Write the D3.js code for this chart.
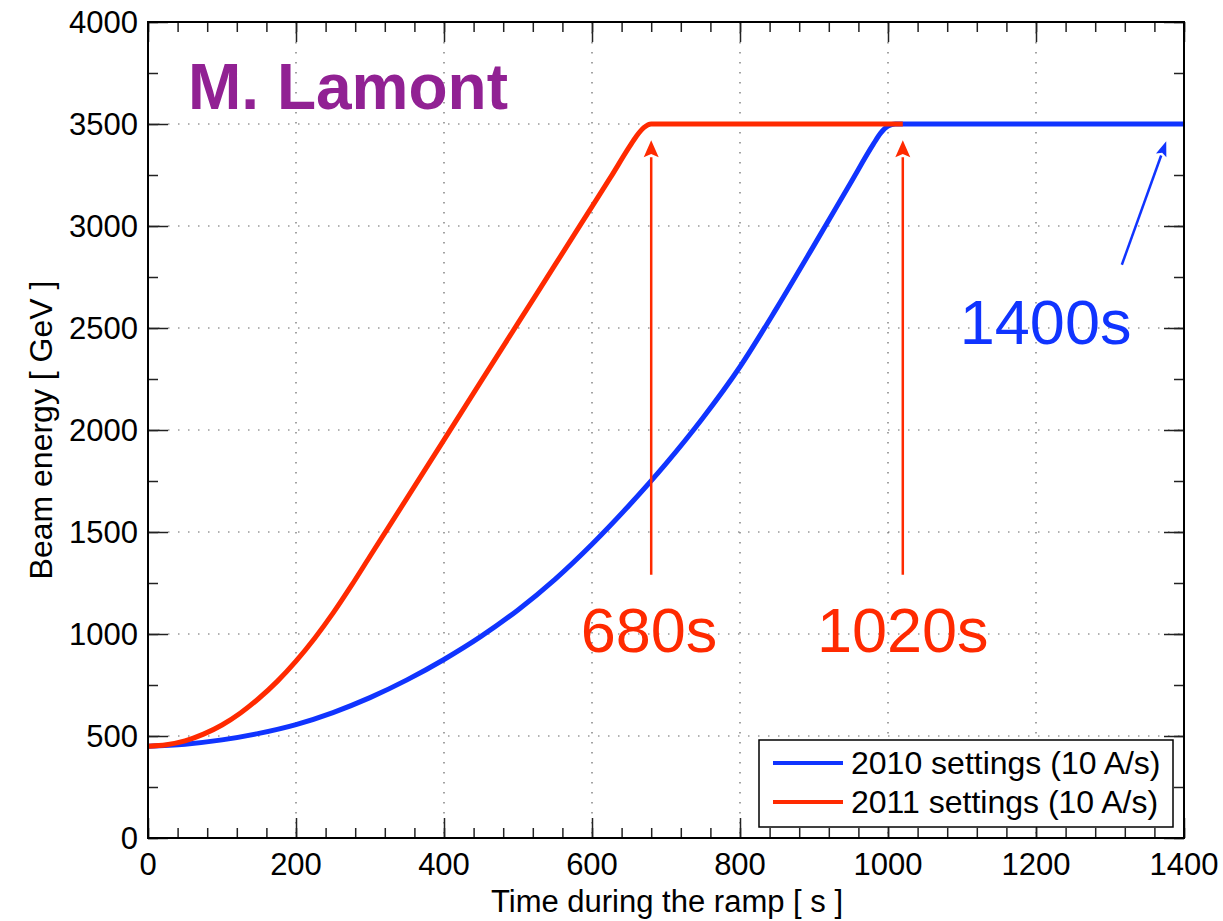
<!DOCTYPE html>
<html>
<head>
<meta charset="utf-8">
<script src="https://cdn.jsdelivr.net/npm/d3@7"></script>
<style>
  body { margin: 0; background: #fff; }
  text { font-family: "Liberation Sans", Arial, Helvetica, sans-serif; }
</style>
</head>
<body>
<div class="chart"></div>
<script>
// 2011 ramp (red)
const timeRed = [0, 25, 50, 75, 100, 125, 150, 175, 200, 225, 250, 275, 300, 350, 400, 450, 500, 550, 600, 625, 650, 660, 670, 680, 1020];
const energyRed = [450, 457, 476, 509, 554, 613, 685, 769, 867, 978, 1102, 1238, 1381, 1666, 1952, 2238, 2524, 2809, 3095, 3238, 3385, 3440, 3482, 3500, 3500];

// 2010 ramp (blue)
const timeBlue = [0, 50, 100, 150, 200, 250, 300, 350, 400, 450, 500, 550, 600, 650, 700, 750, 800, 850, 900, 950, 980, 990, 1000, 1010, 1400];
const energyBlue = [450, 460, 481, 513, 556, 615, 688, 775, 875, 988, 1118, 1268, 1440, 1630, 1835, 2060, 2310, 2600, 2905, 3215, 3400, 3455, 3490, 3500, 3500];

const seriesNames = ['2010 settings (10 A/s)', '2011 settings (10 A/s)'];
const xTicks = [0, 200, 400, 600, 800, 1000, 1200, 1400];
const yTicks = [0, 500, 1000, 1500, 2000, 2500, 3000, 3500, 4000];

// arrows: [x0, y0, x1, y1] in data units
const redArrows = [[680, 1290, 680, 3420], [1020, 1290, 1020, 3420]];
const blueArrow = [1316, 2810, 1376, 3415];
const notes = [
  { text: '680s', t: 677, e: 910, color: '#ff2a00' },
  { text: '1020s', t: 1020, e: 910, color: '#ff2a00' },
  { text: '1400s', t: 1213, e: 2420, color: '#1034ff' }
];

const W = 1223, H = 921;
const m = { left: 148, right: 1184, top: 22, bottom: 838 };
const blue = '#1034ff', red = '#ff2a00';

const svg = d3.select('.chart').append('svg')
  .attr('width', W).attr('height', H);

const x = d3.scaleLinear().domain([0, 1400]).range([m.left, m.right]);
const y = d3.scaleLinear().domain([0, 4000]).range([m.bottom, m.top]);

// dotted grid
svg.append('g').selectAll('line').data(xTicks.slice(1, -1)).join('line')
  .attr('x1', d => x(d)).attr('x2', d => x(d))
  .attr('y1', m.top).attr('y2', m.bottom)
  .attr('stroke', '#666').attr('stroke-width', 1.2).attr('stroke-dasharray', '1.5 8.5');
svg.append('g').selectAll('line').data(yTicks.slice(1, -1)).join('line')
  .attr('x1', m.left).attr('x2', m.right)
  .attr('y1', d => y(d)).attr('y2', d => y(d))
  .attr('stroke', '#666').attr('stroke-width', 1.2).attr('stroke-dasharray', '1.5 8.5');

// ticks on all four sides
const xMinor = d3.range(0, 1401, 40);
const yMinor = d3.range(0, 4001, 250);

function tickAxis(axisFn, scale, values, size, tr) {
  const g = svg.append('g').attr('transform', tr)
    .call(axisFn(scale).tickValues(values).tickSizeInner(-size).tickSizeOuter(0).tickFormat(''));
  g.select('.domain').remove();
  g.selectAll('.tick line').attr('stroke', '#222').attr('stroke-width', 1.5);
  return g;
}
tickAxis(d3.axisBottom, x, xMinor, 10, `translate(0,${m.bottom})`);
tickAxis(d3.axisTop, x, xMinor, 10, `translate(0,${m.top})`);
tickAxis(d3.axisLeft, y, yMinor, 10, `translate(${m.left},0)`);
tickAxis(d3.axisRight, y, yMinor, 10, `translate(${m.right},0)`);
tickAxis(d3.axisBottom, x, xTicks, 20, `translate(0,${m.bottom})`);
tickAxis(d3.axisTop, x, xTicks, 20, `translate(0,${m.top})`);
tickAxis(d3.axisLeft, y, yTicks, 20, `translate(${m.left},0)`);
tickAxis(d3.axisRight, y, yTicks, 20, `translate(${m.right},0)`);

// tick labels
svg.append('g').selectAll('text').data(xTicks).join('text')
  .attr('x', d => x(d)).attr('y', 875)
  .attr('text-anchor', 'middle').attr('font-size', '31px')
  .text(d => d);
svg.append('g').selectAll('text').data(yTicks).join('text')
  .attr('x', 138).attr('y', d => y(d) + 11)
  .attr('text-anchor', 'end').attr('font-size', '31px')
  .text(d => d);

// axis titles
svg.append('text')
  .attr('x', 667).attr('y', 912)
  .attr('text-anchor', 'middle').attr('font-size', '31px')
  .text('Time during the ramp [ s ]');
svg.append('text')
  .attr('transform', `translate(52,${(m.top + m.bottom) / 2}) rotate(-90)`)
  .attr('text-anchor', 'middle').attr('font-size', '32px')
  .text('Beam energy [ GeV ]');

// curves
const line = d3.line().x(d => x(d[0])).y(d => y(d[1])).curve(d3.curveMonotoneX);
svg.append('path')
  .datum(d3.zip(timeBlue, energyBlue))
  .attr('d', line).attr('fill', 'none')
  .attr('stroke', blue).attr('stroke-width', 5);
svg.append('path')
  .datum(d3.zip(timeRed, energyRed))
  .attr('d', line).attr('fill', 'none')
  .attr('stroke', red).attr('stroke-width', 5);

// arrows
function arrow(a, color, width, headLen, headW) {
  const x0 = x(a[0]), y0 = y(a[1]), x1 = x(a[2]), y1 = y(a[3]);
  const ang = Math.atan2(y1 - y0, x1 - x0);
  const bx = x1 - headLen * Math.cos(ang), by = y1 - headLen * Math.sin(ang);
  svg.append('line')
    .attr('x1', x0).attr('y1', y0).attr('x2', bx).attr('y2', by)
    .attr('stroke', color).attr('stroke-width', width);
  const px = -Math.sin(ang) * headW / 2, py = Math.cos(ang) * headW / 2;
  const nx = x1 - headLen * 0.8 * Math.cos(ang), ny = y1 - headLen * 0.8 * Math.sin(ang);
  svg.append('path')
    .attr('d', `M${x1},${y1}L${bx + px},${by + py}L${nx},${ny}L${bx - px},${by - py}Z`)
    .attr('fill', color);
}
redArrows.forEach(a => arrow(a, red, 2.5, 17, 15));
arrow(blueArrow, blue, 2.5, 15, 11);

svg.append('g').selectAll('text').data(notes).join('text')
  .attr('x', d => x(d.t)).attr('y', d => y(d.e))
  .attr('text-anchor', 'middle').attr('font-size', '63px')
  .attr('fill', d => d.color)
  .text(d => d.text);

// author tag
svg.append('text')
  .attr('x', 188).attr('y', 109)
  .attr('font-size', '64px').attr('font-weight', 'bold')
  .attr('fill', '#912193')
  .text('M. Lamont');

// legend
const lg = svg.append('g');
lg.append('rect')
  .attr('x', 759).attr('y', 740).attr('width', 414).attr('height', 87)
  .attr('fill', '#fff').attr('stroke', '#000').attr('stroke-width', 1.5);
const legendColors = [blue, red];
seriesNames.forEach((name, i) => {
  const ly = 763 + i * 39;
  lg.append('line')
    .attr('x1', 773).attr('x2', 843).attr('y1', ly).attr('y2', ly)
    .attr('stroke', legendColors[i]).attr('stroke-width', 4);
  lg.append('text')
    .attr('x', 851).attr('y', ly + 11)
    .attr('font-size', '32px')
    .text(name);
});

// frame
svg.append('rect')
  .attr('x', m.left).attr('y', m.top).attr('width', m.right - m.left).attr('height', m.bottom - m.top)
  .attr('fill', 'none').attr('stroke', '#000').attr('stroke-width', 2);
</script>
</body>
</html>
